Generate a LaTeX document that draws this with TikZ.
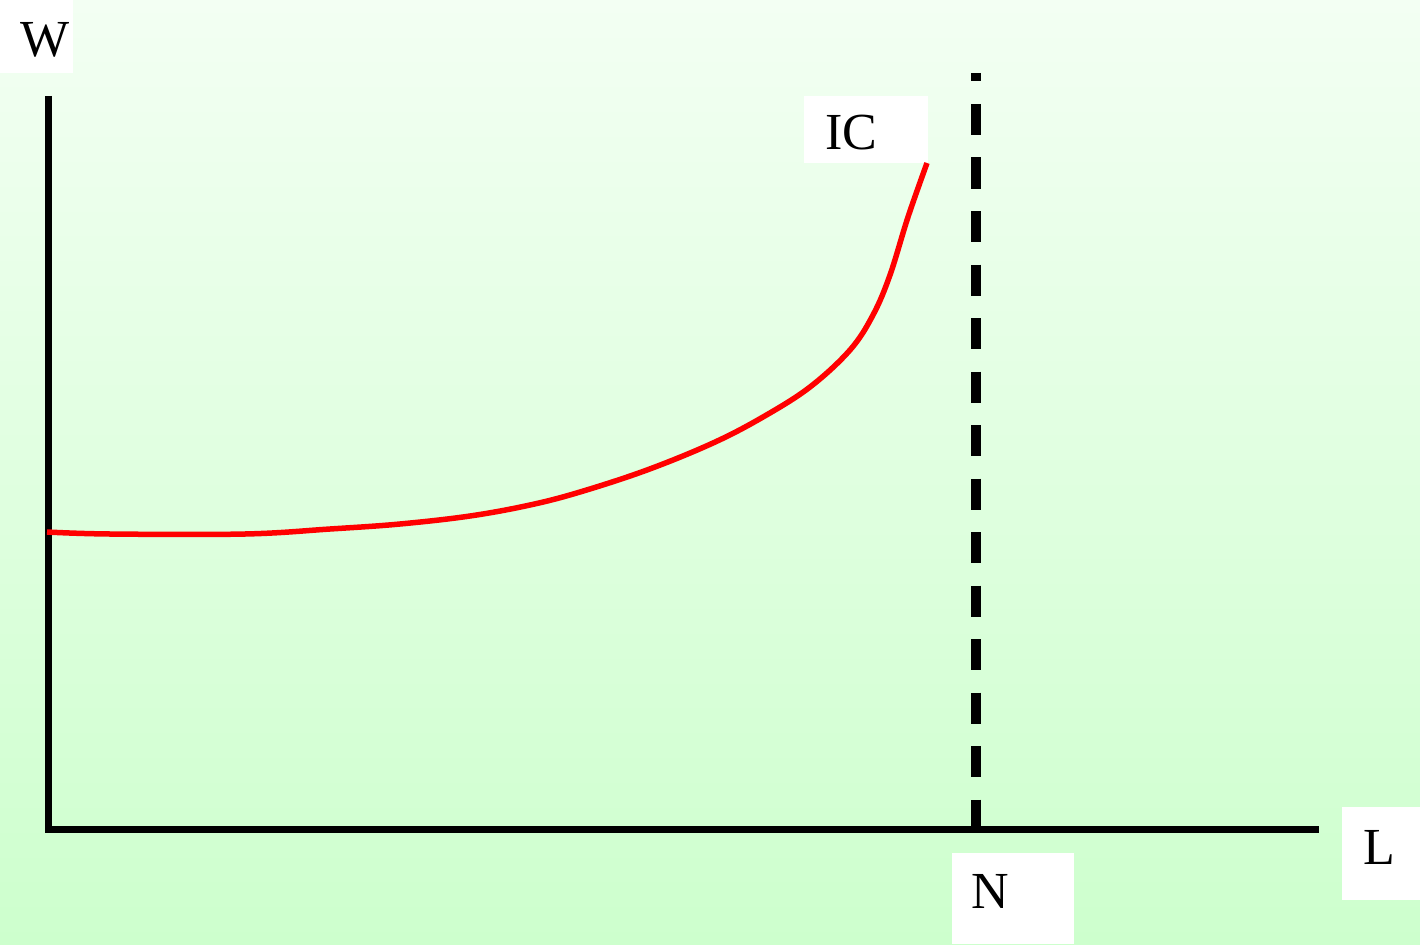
\documentclass[tikz,border=0pt]{standalone}
\usepackage{fontspec}
\setmainfont{Liberation Serif}
\definecolor{bgtop}{RGB}{243,255,243}
\definecolor{bgbot}{RGB}{205,255,205}
\definecolor{icred}{RGB}{255,0,0}
\tikzset{
  lbl/.style={anchor=base west, inner sep=0pt, font=\fontsize{52}{52}\selectfont},
  labelbox/.style={fill=white, draw=none},
  axisline/.style={line width=7pt, black},
  nline/.style={line width=10pt, black, dash pattern=on 31pt off 22.5pt, dash phase=22.5pt},
  icurve/.style={line width=5.5pt, icred}
}
\begin{document}
\begin{tikzpicture}[x=1pt,y=-1pt]
\useasboundingbox (0,0) rectangle (1420,944);
\shade[top color=bgtop, bottom color=bgbot] (0,0) rectangle (1420,944);
% label boxes
\fill[labelbox] (0,0) rectangle (73,73);
\fill[labelbox] (804,96) rectangle (928,163);
\fill[labelbox] (952,853) rectangle (1074,944);
\fill[labelbox] (1342,807) rectangle (1420,900);
% axes
\coordinate (ytop) at (48.5,96);
\coordinate (origin) at (48.5,829.5);
\coordinate (xend) at (1319,829.5);
\draw[axisline] (ytop) -- (48.5,833);
\draw[axisline] (45,829.5) -- (xend);
% N dashed line
\coordinate (ntop) at (976,73);
\coordinate (nbot) at (976,826);
\draw[nline] (ntop) -- (nbot);
% IC curve
\draw[icurve] plot[smooth, tension=0.6] coordinates {(47,532) (110,534) (245,534) (330,529) (400,524) (470,516) (530,505) (580,492) (647,470) (713,443) (763,417) (810,387) (850,350) (873,315) (890,275) (908,217) (927,163)};
% labels
\node[lbl] (W) at (20,57) {W};
\node[lbl] (IC) at (825,150) {IC};
\node[lbl] (N) at (971,908) {N};
\node[lbl] (L) at (1363,864) {L};
\end{tikzpicture}
\end{document}
